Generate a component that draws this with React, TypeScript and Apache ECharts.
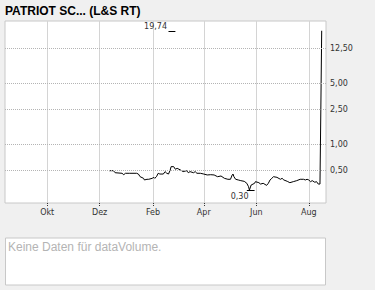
import React, { useEffect, useRef } from "react";
import * as echarts from "echarts";

const TITLE = "PATRIOT SC... (L&S RT)";
const NO_DATA_TEXT = "Keine Daten für dataVolume.";
const AXIS_START = "2022-08-13";
const AXIS_END = "2023-08-21";
const MONTHS_DE = ["Jan", "Feb", "Mär", "Apr", "Mai", "Jun", "Jul", "Aug", "Sep", "Okt", "Nov", "Dez"];
const LABEL_MONTHS = [10, 12, 2, 4, 6, 8]; // Okt, Dez, Feb, Apr, Jun, Aug
const Y_TICKS = [0.5, 1, 2.5, 5, 12.5];
const Y_MIN = 0.214;
const Y_MAX = 25.5;

const dates = [
  "2022-12-12", "2022-12-17", "2022-12-19", "2022-12-27", "2022-12-29", "2022-12-31",
  "2023-01-05", "2023-01-13", "2023-01-15", "2023-01-17", "2023-01-21", "2023-01-22",
  "2023-01-25", "2023-01-27", "2023-01-31", "2023-02-02", "2023-02-03", "2023-02-05",
  "2023-02-07", "2023-02-09", "2023-02-13", "2023-02-15", "2023-02-17", "2023-02-19",
  "2023-02-21", "2023-02-22", "2023-02-25", "2023-02-27", "2023-03-01", "2023-03-05",
  "2023-03-08", "2023-03-12", "2023-03-14", "2023-03-16", "2023-03-20", "2023-03-22",
  "2023-03-24", "2023-03-28", "2023-04-01", "2023-04-05", "2023-04-09", "2023-04-13",
  "2023-04-17", "2023-04-21", "2023-04-25", "2023-04-29", "2023-05-02", "2023-05-04",
  "2023-05-05", "2023-05-06", "2023-05-08", "2023-05-11", "2023-05-14", "2023-05-18",
  "2023-05-21", "2023-05-23", "2023-05-24", "2023-05-26", "2023-05-30", "2023-05-31",
  "2023-06-04", "2023-06-06", "2023-06-09", "2023-06-13", "2023-06-15", "2023-06-17",
  "2023-06-19", "2023-06-21", "2023-06-25", "2023-06-29", "2023-07-01", "2023-07-03",
  "2023-07-07", "2023-07-10", "2023-07-14", "2023-07-18", "2023-07-22", "2023-07-26",
  "2023-07-28", "2023-07-30", "2023-08-01", "2023-08-03", "2023-08-05", "2023-08-08",
  "2023-08-10", "2023-08-12", "2023-08-14", "2023-08-15", "2023-08-16",
];

const prices = [
  0.5, 0.5, 0.474, 0.467, 0.45, 0.467,
  0.467, 0.467, 0.458, 0.427, 0.409, 0.392,
  0.399, 0.399, 0.409, 0.42, 0.409, 0.427,
  0.467, 0.458, 0.458, 0.488, 0.467, 0.458,
  0.509, 0.556, 0.556, 0.519, 0.532, 0.509,
  0.488, 0.5, 0.474, 0.488, 0.474, 0.488,
  0.467, 0.467, 0.458, 0.447, 0.45, 0.447,
  0.427, 0.435, 0.409, 0.399, 0.399, 0.447,
  0.458, 0.427, 0.399, 0.392, 0.385, 0.378,
  0.359, 0.328, 0.3, 0.343, 0.359, 0.375,
  0.365, 0.352, 0.359, 0.34, 0.359, 0.392,
  0.409, 0.427, 0.42, 0.399, 0.409, 0.392,
  0.378, 0.365, 0.375, 0.385, 0.399, 0.399,
  0.392, 0.399, 0.392, 0.375, 0.385, 0.369,
  0.375, 0.352, 0.352, 2.5, 19.74,
];

const MAX_VALUE = 19.74;
const MIN_VALUE = 0.3;
// where the original chart puts its max / min markers
const MAX_MARK = ["2023-02-19", "2023-02-27"];
const MIN_MARK = ["2023-05-21", "2023-05-30"];
const MIN_TEXT_END = "2023-05-23";

const FONT = "'DejaVu Sans', Verdana, sans-serif";

function fmt(v: number): string {
  return v.toFixed(2).replace(".", ",");
}

function buildCategories(): string[] {
  const out: string[] = [];
  const [sy, sm, sd] = AXIS_START.split("-").map(Number);
  const end = AXIS_END;
  let t = Date.UTC(sy, sm - 1, sd);
  for (let i = 0; i < 1000; i++) {
    const s = new Date(t).toISOString().slice(0, 10);
    out.push(s);
    if (s === end) break;
    t += 86400000;
  }
  return out;
}

function isLabelDay(value: string): boolean {
  return value.slice(8, 10) === "01" && LABEL_MONTHS.includes(Number(value.slice(5, 7)));
}

export default function App() {
  const ref = useRef<HTMLDivElement>(null);

  useEffect(() => {
    if (!ref.current) return;
    const chart = echarts.init(ref.current, undefined, { renderer: "svg" });
    const categories = buildCategories();
    const lookup = new Map<string, number>();
    dates.forEach((d, i) => lookup.set(d, prices[i]));
    const seriesData = categories.map((c) => (lookup.has(c) ? lookup.get(c)! : "-"));

    const intervalFn = (_i: number, value: string) => isLabelDay(value);

    chart.setOption({
      animation: false,
      backgroundColor: "#f0f0f0",
      title: {
        text: TITLE,
        left: 5,
        top: 5,
        padding: 0,
        textStyle: {
          fontFamily: "'Liberation Sans', Arial, sans-serif",
          fontSize: 12,
          fontWeight: "bold",
          color: "#000",
          lineHeight: 12,
        },
      },
      grid: {
        left: 5,
        top: 21,
        width: 321,
        height: 182,
        show: true,
        backgroundColor: "#fff",
        borderColor: "#c8c8c8",
        borderWidth: 1,
      },
      xAxis: {
        type: "category",
        data: categories,
        boundaryGap: false,
        axisLine: { show: false },
        axisTick: {
          show: true,
          interval: intervalFn,
          length: 4,
          lineStyle: { color: "#333", width: 1, type: [1, 1] },
        },
        axisLabel: {
          interval: intervalFn,
          margin: 5,
          fontFamily: FONT,
          fontSize: 8,
          color: "#333",
          formatter: (v: string) => MONTHS_DE[Number(v.slice(5, 7)) - 1],
        },
        splitLine: {
          show: true,
          interval: intervalFn,
          lineStyle: { color: "#d4d4d4", width: 1 },
        },
      },
      yAxis: {
        type: "log",
        logBase: 10,
        min: Y_MIN,
        max: Y_MAX,
        axisLine: { show: false },
        axisTick: { show: false },
        axisLabel: { show: false },
        splitLine: { show: false },
      },
      series: [
        {
          type: "line",
          data: seriesData,
          connectNulls: true,
          showSymbol: false,
          symbol: "none",
          lineStyle: { color: "#000", width: 1 },
          z: 3,
          markLine: {
            silent: true,
            symbol: "none",
            lineStyle: { type: "dotted", color: "#b4b4b4", width: 1 },
            label: {
              show: true,
              position: "end",
              distance: 4,
              fontFamily: FONT,
              fontSize: 8,
              color: "#333",
            },
            data: Y_TICKS.map((v) => ({ yAxis: v, label: { formatter: fmt(v) } })),
          },
        },
      ],
    });

    const px = (d: string) => chart.convertToPixel({ xAxisIndex: 0 }, d) as number;
    const py = (v: number) => chart.convertToPixel({ yAxisIndex: 0 }, v) as number;
    const yMax = Math.round(py(MAX_VALUE)) + 0.5;
    const yMin = Math.round(py(MIN_VALUE)) + 0.5;
    const mx1 = px(MAX_MARK[0]);
    const mx2 = px(MAX_MARK[1]);
    const nx1 = px(MIN_MARK[0]);
    const nx2 = px(MIN_MARK[1]);
    const nte = px(MIN_TEXT_END);

    chart.setOption({
      graphic: [
        {
          type: "line",
          shape: { x1: mx1, y1: yMax, x2: mx2, y2: yMax },
          style: { stroke: "#000", lineWidth: 1 },
          z: 10,
        },
        {
          type: "text",
          x: mx1 - 1.5,
          y: yMax - 1,
          style: {
            text: fmt(MAX_VALUE),
            align: "right",
            verticalAlign: "bottom",
            fontFamily: FONT,
            fontSize: 8,
            fill: "#333",
          },
          z: 10,
        },
        {
          type: "line",
          shape: { x1: nx1, y1: yMin, x2: nx2, y2: yMin },
          style: { stroke: "#000", lineWidth: 1 },
          z: 10,
        },
        {
          type: "text",
          x: nte,
          y: yMin + 2,
          style: {
            text: fmt(MIN_VALUE),
            align: "right",
            verticalAlign: "top",
            fontFamily: FONT,
            fontSize: 8,
            fill: "#333",
          },
          z: 10,
        },
        {
          type: "rect",
          shape: { x: 5.5, y: 238, width: 320, height: 47 },
          style: { fill: "#fff", stroke: "#c8c8c8", lineWidth: 1 },
        },
        {
          type: "text",
          x: 8,
          y: 247,
          style: {
            text: NO_DATA_TEXT,
            align: "left",
            verticalAlign: "middle",
            fontFamily: "'Liberation Sans', Arial, sans-serif",
            fontSize: 12,
            fill: "#b4b4b4",
          },
        },
      ],
    });

    return () => chart.dispose();
  }, []);

  return (
    <div
      style={{ position: "fixed", left: 0, top: 0, width: 375, height: 290, background: "#f0f0f0" }}
    >
      <div ref={ref} style={{ width: 375, height: 290 }} />
    </div>
  );
}
